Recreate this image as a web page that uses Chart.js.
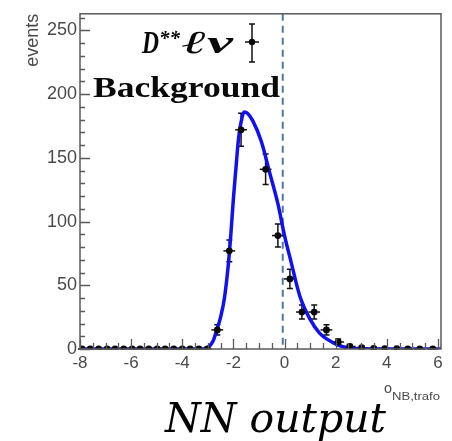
<!DOCTYPE html>
<html>
<head>
<meta charset="utf-8">
<script src="https://cdn.jsdelivr.net/npm/chart.js@4/dist/chart.umd.min.js"></script>
<style>
  html, body { margin: 0; padding: 0; background: #fff; }
  #wrap { width: 452px; height: 441px; position: relative; }
</style>
</head>
<body>
<div id="wrap"><canvas id="c" width="452" height="441"></canvas></div>
<script>
// ---- data ----
const xTickValues = [-8, -6, -4, -2, 0, 2, 4, 6];
const yTickValues = [0, 50, 100, 150, 200, 250];

const binCenters = [-7.92, -7.6, -7.27, -6.94, -6.63, -6.29, -5.96, -5.65, -5.31, -4.98, -4.67, -4.33, -4.0, -3.69, -3.35, -3.02,
  -2.63, -2.16, -1.70, -0.74, -0.26, 0.21, 0.68, 1.16, 1.64, 2.10, 2.55, 3.02, 3.49, 3.92, 4.39, 4.82, 5.29, 5.80];
const counts = [0, 0, 0, 0, 0, 0, 0, 0, 0, 0, 0, 0, 0, 0, 0, 0,
  15, 77, 172, 141, 89, 55, 29, 29, 15, 5.5, 2, 1, 0.5, 0.3, 0.2, 0, 0, 0];
const countErrors = [0, 0, 0, 0, 0, 0, 0, 0, 0, 0, 0, 0, 0, 0, 0, 0,
  4, 8.5, 13, 12, 9, 7.5, 5.5, 5.5, 4, 2.4, 1.5, 1, 0.7, 0.5, 0.4, 0, 0, 0];
const binHalfWidths = [0.16, 0.16, 0.16, 0.16, 0.16, 0.16, 0.16, 0.16, 0.16, 0.16, 0.16, 0.16, 0.16, 0.16, 0.16, 0.16,
  0.23, 0.23, 0.23, 0.23, 0.23, 0.23, 0.23, 0.23, 0.23, 0.23, 0.23, 0.23, 0.23, 0.22, 0.22, 0.22, 0.22, 0.22];

const fitX = [-8, -3.3, -3.1, -2.95, -2.8, -2.65, -2.5, -2.35, -2.2, -2.1, -2.0, -1.9, -1.8, -1.7, -1.57, -1.45, -1.24,
  -0.91, -0.59, -0.26, 0, 0.26, 0.59, 0.98, 1.37, 1.9, 2.42, 2.97, 3.5, 6.12];
const fitY = [0, 0, 0.5, 2, 6, 15, 25, 40, 66, 90, 118, 142, 165, 178, 186, 185, 179,
  163, 139, 114, 89, 68, 42, 24, 12.5, 5, 1, 0.3, 0, 0];

const cutValue = -0.07;

const xRange = [-8, 6.12];
const yRange = [0, 263];

// ---- styling ----
const axisGray = '#5a5a5a';
const labelGray = '#4a4a4a';

function fitText(ctx, text, x, y, font, width) {
  ctx.save();
  ctx.font = font;
  const w = ctx.measureText(text).width;
  ctx.translate(x, y);
  ctx.scale(width / w, 1);
  ctx.textAlign = 'left';
  ctx.textBaseline = 'alphabetic';
  ctx.fillText(text, 0, 0);
  ctx.restore();
}

const decorPlugin = {
  id: 'decor',
  beforeDatasetsDraw(chart) {
    const ctx = chart.ctx, xs = chart.scales.x, ys = chart.scales.y, a = chart.chartArea;
    // dashed cut line
    ctx.save();
    ctx.strokeStyle = '#52779f';
    ctx.lineWidth = 2;
    ctx.setLineDash([7, 5]);
    const cx = xs.getPixelForValue(cutValue);
    ctx.beginPath(); ctx.moveTo(cx, a.top); ctx.lineTo(cx, a.bottom); ctx.stroke();
    ctx.restore();
    // error bars
    ctx.save();
    ctx.strokeStyle = '#111';
    ctx.lineWidth = 1.5;
    for (let i = 0; i < binCenters.length; i++) {
      const px = xs.getPixelForValue(binCenters[i]);
      const py = ys.getPixelForValue(counts[i]);
      const x0 = xs.getPixelForValue(binCenters[i] - binHalfWidths[i]);
      const x1 = xs.getPixelForValue(binCenters[i] + binHalfWidths[i]);
      ctx.beginPath(); ctx.moveTo(x0, py); ctx.lineTo(x1, py); ctx.stroke();
      if (countErrors[i] > 0) {
        const y0 = ys.getPixelForValue(counts[i] - countErrors[i]);
        const y1 = ys.getPixelForValue(counts[i] + countErrors[i]);
        ctx.beginPath(); ctx.moveTo(px, y0); ctx.lineTo(px, y1); ctx.stroke();
        ctx.beginPath();
        ctx.moveTo(px - 3, y0); ctx.lineTo(px + 3, y0);
        ctx.moveTo(px - 3, y1); ctx.lineTo(px + 3, y1);
        ctx.stroke();
      }
    }
    ctx.restore();
  },
  afterDraw(chart) {
    const ctx = chart.ctx, xs = chart.scales.x, ys = chart.scales.y, a = chart.chartArea;
    ctx.save();
    // frame
    ctx.strokeStyle = axisGray;
    ctx.lineWidth = 1.5;
    ctx.strokeRect(a.left, a.top, a.right - a.left, a.bottom - a.top);
    // y ticks (inside)
    ctx.lineWidth = 1.3;
    ctx.beginPath();
    for (let v = yRange[0]; v <= yRange[1]; v += 10) {
      const py = Math.round(ys.getPixelForValue(v)) + 0.5;
      const major = v % 50 === 0;
      ctx.moveTo(a.left, py); ctx.lineTo(a.left + (major ? 10 : 5), py);
    }
    // x ticks (inside)
    for (let v = -8; v <= 6.001; v += 0.5) {
      const px = Math.round(xs.getPixelForValue(v)) + 0.5;
      const major = Math.abs(v % 2) < 1e-6;
      ctx.moveTo(px, a.bottom); ctx.lineTo(px, a.bottom - (major ? 10 : 6));
    }
    ctx.stroke();

    // y axis title
    ctx.fillStyle = labelGray;
    ctx.save();
    ctx.translate(38, a.top);
    ctx.rotate(-Math.PI / 2);
    ctx.font = '18px "Liberation Sans", Arial, sans-serif';
    ctx.textAlign = 'right';
    ctx.textBaseline = 'alphabetic';
    ctx.fillText('events', 0, 0);
    ctx.restore();

    // x axis title
    fitText(ctx, 'o', 384, 393, '15px "Liberation Sans", Arial, sans-serif', 8);
    fitText(ctx, 'NB,trafo', 392, 400, '11px "Liberation Sans", Arial, sans-serif', 48);

    // legend
    ctx.fillStyle = '#0a0a0a';
    const serifBI = 'bold italic 32px "Liberation Serif", "DejaVu Serif", serif';
    fitText(ctx, 'D', 142, 53, serifBI, 17);
    fitText(ctx, '**', 159, 45, 'bold italic 20px "Liberation Serif", "DejaVu Serif", serif', 21);
    fitText(ctx, '\u2113\u03bd', 182, 53, serifBI, 51);
    fitText(ctx, 'Background', 93, 97, 'bold 30px "Liberation Serif", "Times New Roman", serif', 187);

    // legend marker
    ctx.strokeStyle = '#111';
    ctx.lineWidth = 1.5;
    ctx.beginPath();
    ctx.moveTo(252, 24); ctx.lineTo(252, 62);
    ctx.moveTo(249, 24); ctx.lineTo(255, 24);
    ctx.moveTo(249, 62); ctx.lineTo(255, 62);
    ctx.moveTo(245, 42); ctx.lineTo(259, 42);
    ctx.stroke();
    ctx.beginPath(); ctx.arc(252, 42, 3.2, 0, Math.PI * 2); ctx.fill();

    // big caption
    ctx.fillStyle = '#000';
    fitText(ctx, 'NN output', 165, 432, 'italic 41px "DejaVu Serif", serif', 221);
    ctx.restore();
  }
};

const pointData = binCenters.map((x, i) => ({ x: x, y: counts[i] }));
const fitData = fitX.map((x, i) => ({ x: x, y: fitY[i] }));

new Chart(document.getElementById('c'), {
  type: 'scatter',
  data: {
    datasets: [
      {
        label: 'data',
        data: pointData,
        pointRadius: 3.4,
        pointBackgroundColor: '#0a0a0a',
        pointBorderColor: '#0a0a0a',
        pointBorderWidth: 0,
        showLine: false
      },
      {
        label: 'fit',
        data: fitData,
        showLine: true,
        pointRadius: 0,
        borderColor: '#1010f0',
        borderWidth: 3.5,
        cubicInterpolationMode: 'monotone',
        fill: false
      }
    ]
  },
  options: {
    responsive: false,
    animation: false,
    events: [],
    layout: { padding: { left: 0, right: 11, top: 8, bottom: 0 } },
    plugins: { legend: { display: false }, tooltip: { enabled: false } },
    scales: {
      x: {
        type: 'linear',
        min: xRange[0], max: xRange[1],
        grid: { display: false, drawTicks: false },
        border: { display: false },
        afterBuildTicks: s => { s.ticks = xTickValues.map(v => ({ value: v })); },
        afterFit: s => { s.height = 92; },
        ticks: {
          autoSkip: false, maxRotation: 0, padding: 4,
          color: labelGray,
          font: { family: '"Liberation Sans", Arial, sans-serif', size: 17 }
        }
      },
      y: {
        type: 'linear',
        min: yRange[0], max: yRange[1],
        grid: { display: false, drawTicks: false },
        border: { display: false },
        afterBuildTicks: s => { s.ticks = yTickValues.map(v => ({ value: v })); },
        afterFit: s => { s.width = 80; },
        ticks: {
          autoSkip: false, padding: 3,
          color: labelGray,
          font: { family: '"Liberation Sans", Arial, sans-serif', size: 18 }
        }
      }
    }
  },
  plugins: [decorPlugin]
});
</script>
</body>
</html>
